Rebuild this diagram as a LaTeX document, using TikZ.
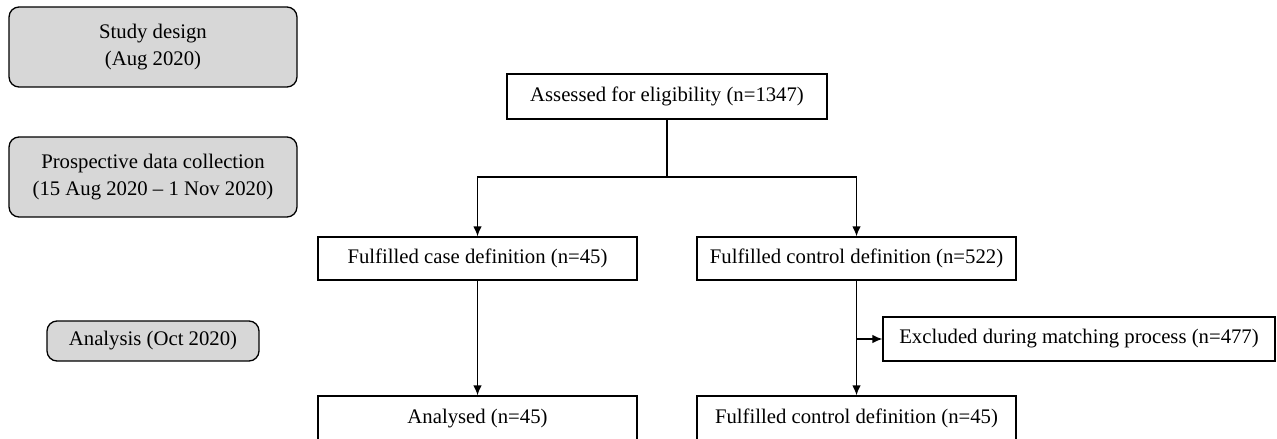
\documentclass[tikz,border=0pt]{standalone}
\usepackage{fontspec}
\setmainfont{Liberation Serif}
\usetikzlibrary{arrows.meta}
\definecolor{phasegray}{RGB}{215,215,215}

\begin{document}
\begin{tikzpicture}[x=0.02cm,y=-0.02cm,line width=0.75pt,
  every node/.style={font=\fontsize{11.8}{15.4}\selectfont},
  phase/.style={draw,rounded corners=0.2cm,fill=phasegray,align=center,inner sep=0pt},
  flowbox/.style={draw,align=center,inner sep=0pt,minimum width=6.38cm,minimum height=0.86cm},
  arr/.style={-{Latex[length=2mm,width=1.7mm]}}]
\clip (0,0) rectangle (1277,439);
% time line on the left
\node[phase,minimum width=5.76cm,minimum height=1.6cm] (design) at (153,47) {Study design\\(Aug 2020)};
\node[phase,minimum width=5.76cm,minimum height=1.6cm] (collect) at (153,177) {Prospective data collection\\(15 Aug 2020 -- 1 Nov 2020)};
\node[phase,minimum width=4.24cm,minimum height=0.8cm] (analysis) at (153,341) {Analysis (Oct 2020)};
% flow
\node[flowbox,minimum width=6.4cm,minimum height=0.9cm] (assess) at (667,96.5) {Assessed for eligibility (n=1347)};
\node[flowbox] (case) at (477.5,258.5) {Fulfilled case definition (n=45)};
\node[flowbox] (ctrl) at (856.5,258.5) {Fulfilled control definition (n=522)};
\node[flowbox,minimum width=7.84cm,minimum height=0.88cm] (excl) at (1079,339) {Excluded during matching process (n=477)};
\node[flowbox,minimum height=0.9cm] (analysed) at (477.5,418.5) {Analysed (n=45)};
\node[flowbox,minimum height=0.9cm] (matched) at (856.5,418.5) {Fulfilled control definition (n=45)};
\coordinate (split) at (667,177);
\coordinate (branch) at (856.5,339);
\draw (assess) -- (split);
\draw[arr] (split) -| (case.north);
\draw[arr] (split) -| (ctrl.north);
\draw[arr] (case) -- (analysed);
\draw[arr] (ctrl) -- (matched);
\draw[arr] (branch) -- (excl);
\end{tikzpicture}
\end{document}
